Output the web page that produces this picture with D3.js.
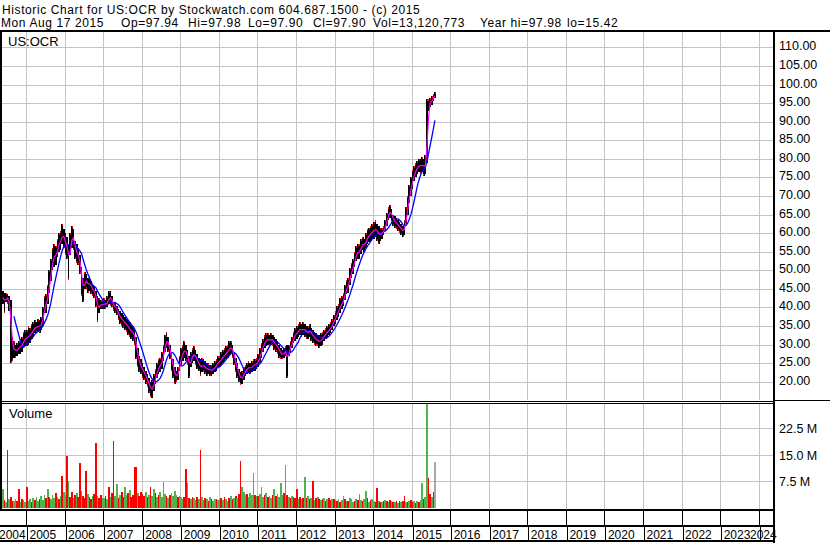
<html>
<meta charset="utf-8">
<style>
  body { margin: 0; background: #fff; }
  text { font-family: "Liberation Sans", Arial, sans-serif; fill: #000; }
  .header { font-size: 12px; letter-spacing: 0.6px; }
</style>
<body>
<script src="https://d3js.org/d3.v7.min.js"></script>
<script>

// half-month bars, the first one starts mid May 2004, the last one ends Aug 17 2015
var barStart = 2004.375;
var barsPerYear = 24;

var highs = [
  // 2004 (from mid May)
  44.5, 44, 44, 43.5, 43, 42, 32, 31, 30, 30.5, 31, 31.5, 32, 33.5, 34,
  // 2005
  34, 35, 34.5, 35.5, 36, 36.5, 36, 37, 36.5, 37.5, 40, 43, 43.5, 46, 50, 53, 56, 57, 56.5, 58.5, 60, 60.5, 62.5, 61,
  // 2006
  60, 59, 57, 60, 62, 61, 58, 57, 56, 54, 51, 48, 49.5, 49, 48, 48.5, 47, 46, 45.5, 44.5, 43, 42.5, 42, 42,
  // 2007
  42.5, 42, 43, 44.5, 44.5, 43, 41.5, 41.5, 40.5, 39.5, 39, 38.5, 38, 37.5, 37, 36.5, 36, 35.5, 35, 34, 32, 29, 27, 26,
  // 2008
  25, 24, 23, 22, 21, 20, 20.5, 22, 23.5, 25, 26, 26.5, 28, 30, 32.5, 33.5, 32, 30, 28, 26, 24, 23, 24, 27,
  // 2009
  29, 30, 31, 30, 28.5, 27, 28, 29, 29.5, 28.5, 27.5, 26.5, 26, 26.5, 26, 25.5, 25, 25, 24.5, 24.5, 25, 25.5, 26, 27,
  // 2010
  27, 28, 28.5, 29, 29.5, 30, 31, 31, 30, 28, 26.5, 25, 23.5, 22.5, 23, 24, 24.5, 25, 25.5, 25, 25.5, 26, 26, 26.5,
  // 2011
  27.5, 29, 30.5, 31.5, 32.5, 33, 33, 32.5, 33, 32.5, 32, 31.5, 31, 30, 29, 28.5, 29, 29.5, 30, 30, 31, 32, 33.5, 34.5,
  // 2012
  35, 35.5, 36, 35.5, 36, 35.5, 35, 35, 35.5, 34.5, 34, 33.5, 33, 32.5, 32.5, 33, 33.5, 34, 34.5, 35, 35.5, 36, 37, 38,
  // 2013
  39, 40.5, 41, 42.5, 43, 44, 46, 47.5, 48, 50.5, 52, 53, 55, 56.5, 57, 57, 58.5, 59, 58.5, 60, 61, 61.5, 62, 62.5,
  // 2014
  63, 63.5, 62.5, 62, 61.5, 61.5, 62, 63.5, 65.5, 67, 67.5, 66.5, 65, 64.5, 64, 63.5, 63, 62.5, 62, 63.5, 67, 70, 73, 75,
  // 2015 (to Aug 17)
  77, 78, 79, 79.5, 80, 80, 80.5, 80, 81, 96, 96, 96.5, 97, 97.5, 98
];

var lows = [
  // 2004
  41, 38.5, 41.5, 41, 39, 25, 25.5, 26.5, 26.5, 27, 27.5, 27.5, 28, 29, 29.5,
  // 2005
  29.5, 30, 30.5, 31.5, 32, 33, 33, 33.5, 33, 34, 35, 38.5, 38.5, 41, 44, 47, 50, 51, 51.5, 53.5, 55, 55.5, 57, 56,
  // 2006
  54, 53, 47.5, 54, 56, 55.5, 53, 52, 51.5, 49, 43, 41.5, 45, 45, 44, 44.5, 43.5, 43, 42.5, 40, 36, 38.5, 39.5, 39.5,
  // 2007
  39.5, 39.5, 40, 41, 40.5, 40, 39, 38.5, 38, 36.5, 35.5, 35, 34.5, 34, 33.5, 32.5, 32, 31.5, 31, 30, 26, 24, 22.5, 22,
  // 2008
  21, 20.5, 19.5, 18.5, 17, 16, 15.5, 17.5, 19.5, 21, 22, 22.5, 23.5, 25.5, 28, 29, 28, 26, 23, 21, 19.5, 20, 20.5, 23,
  // 2009
  24.5, 25.5, 26.5, 25.5, 24.5, 21, 24, 25, 25.5, 24.5, 23.5, 23, 21.5, 22.5, 22.5, 22, 21.5, 22, 21.5, 21.5, 22, 22.5, 23, 24,
  // 2010
  24, 24.5, 25, 25.5, 26, 26.5, 27, 27.5, 26.5, 24.5, 22.5, 21, 20, 19, 19.5, 20.5, 21.5, 22, 22.5, 22, 22.5, 23, 23, 23.5,
  // 2011
  24, 25, 26.5, 28, 29, 29.5, 30, 29.5, 30, 29.5, 28.5, 28, 27.5, 26.5, 26, 26, 26.5, 27, 21, 27, 28, 29, 30.5, 31,
  // 2012
  31.5, 32, 32.5, 32, 32.5, 32, 31.5, 31.5, 32, 31, 30.5, 30, 29.5, 29.5, 29, 29.5, 30, 31, 31.5, 32, 32.5, 33, 34, 35,
  // 2013
  35.5, 36.5, 37.5, 38.5, 39.5, 40.5, 42, 43.5, 44, 46, 48, 49, 51, 52.5, 53, 53, 54.5, 55.5, 55, 56, 57, 57.5, 58, 58.5,
  // 2014
  58.5, 59, 58, 57, 58, 58.5, 59.5, 60.5, 62, 63.5, 64, 63, 62, 61.5, 61, 60.5, 60, 59.5, 59, 59.5, 62.5, 65, 68, 70,
  // 2015
  72, 74, 75, 76, 76.5, 76, 76.5, 75.5, 76, 79, 93, 94, 94.5, 95.5, 96.5
];

// biggest volume of each half month, millions
var volumes = [
  // 2004
  5.3, 2.2, 1.8, 16.4, 2.5, 3.0, 2.1, 1.9, 2.4, 2.0, 5.5, 1.7, 2.6, 2.2, 1.8,
  // 2005
  6.0, 2.1, 2.6, 1.8, 2.9, 2.3, 3.1, 2.0, 2.5, 3.4, 2.2, 3.8, 2.7, 5.5, 3.2, 2.4, 3.6, 2.8, 4.1, 3.0, 2.6, 3.3, 9.0, 4.4,
  // 2006
  3.8, 14.7, 7.5, 3.2, 4.5, 2.9, 3.6, 4.2, 3.1, 12.8, 4.8, 3.5, 2.7, 10.4, 3.9, 3.0, 2.6, 3.4, 4.0, 18.4, 3.3, 2.8, 3.7, 2.9,
  // 2007
  2.8, 3.5, 2.6, 6.0, 3.1, 4.2, 18.9, 3.4, 6.8, 2.9, 3.8, 4.5, 3.2, 6.0, 3.6, 4.1, 5.2, 3.0, 3.7, 11.7, 11.5, 4.3, 3.5, 4.6,
  // 2008
  4.0, 3.4, 4.4, 3.1, 3.8, 6.0, 3.5, 5.5, 4.2, 3.0, 3.6, 4.5, 3.2, 7.4, 4.0, 3.3, 2.9, 3.7, 4.1, 3.4, 4.7, 3.8, 3.0, 3.5,
  // 2009
  3.1, 2.6, 3.2, 11.0, 7.0, 2.9, 2.4, 3.0, 2.7, 2.2, 3.0, 2.6, 16.4, 3.2, 2.3, 2.8, 2.5, 2.1, 3.0, 2.6, 2.0, 2.6, 2.4, 2.2,
  // 2010
  2.5, 2.9, 2.2, 3.1, 2.6, 2.0, 2.8, 3.3, 2.4, 2.7, 3.5, 2.9, 4.0, 13.3, 6.0, 4.4, 3.7, 3.9, 3.2, 4.2, 3.6, 10.0, 3.8, 3.4,
  // 2011
  3.5, 3.9, 6.0, 3.2, 3.6, 4.1, 3.0, 3.4, 2.8, 3.7, 5.5, 3.3, 4.0, 3.1, 7.0, 3.6, 4.3, 12.0, 3.8, 3.2, 2.9, 3.5, 3.0, 2.7,
  // 2012
  5.5, 2.6, 3.1, 2.4, 2.9, 8.8, 2.7, 3.3, 2.5, 2.8, 7.6, 2.3, 2.7, 3.0, 2.4, 2.2, 2.6, 2.9, 2.1, 2.5, 2.8, 2.3, 2.6, 2.4,
  // 2013
  2.3, 2.0, 2.6, 1.8, 2.2, 3.4, 2.5, 1.9, 2.1, 2.8, 2.4, 1.7, 2.0, 2.6, 2.2, 3.9, 2.3, 1.9, 2.5, 4.8, 2.7, 1.8, 2.2, 2.4,
  // 2014
  2.0, 1.7, 5.7, 2.1, 1.8, 1.6, 2.0, 2.3, 1.9, 1.7, 2.2, 2.0, 1.6, 1.8, 2.1, 1.5, 1.9, 1.7, 2.0, 3.5, 1.8, 1.6, 2.0, 2.3,
  // 2015
  1.6, 1.9, 1.4, 2.0, 1.7, 2.2, 7.1, 2.4, 3.0, 31, 8.5, 4.0, 3.2, 4.5, 13.1
];

// g = up, r = down, x = current day
var volumeColors = "grgrgrrggrrgrgg" +
  "rggrgrggrgggrgrgggrgrgrg" +
  "grgrrgrgrrgrrrgrrgrrgrrg" +
  "grgrgrrggrgrrggrgrrrrgrr" +
  "rrgrgrggrgrggggrgrggggrg" +
  "ggrrgrgrggrgrggrgrgrggrg" +
  "grgrggrgrgrgrrgggrggggrg" +
  "rgggrgrggrgrggggrgrgrgrr" +
  "rgrgrgrgrgrgrgrgrgrgrrgr" +
  "grgrggrgrgggrgrggrggrgrg" +
  "grrgrgrgrgrgrgrgrgrrgrgr" +
  "rgrgrggrggrrgrx";

var years = [2004, 2005, 2006, 2007, 2008, 2009, 2010, 2011, 2012, 2013, 2014,
             2015, 2016, 2017, 2018, 2019, 2020, 2021, 2022, 2023, 2024];
var priceTicks = [20, 25, 30, 35, 40, 45, 50, 55, 60, 65, 70, 75, 80, 85, 90, 95, 100, 105, 110];
var volumeTicks = [7.5, 15, 22.5];

var titleLine = "Historic Chart for US:OCR by Stockwatch.com 604.687.1500 - (c) 2015";
var quoteFields = [
  {text: "Mon Aug 17 2015", x: 1},
  {text: "Op=97.94", x: 121},
  {text: "Hi=97.98", x: 188},
  {text: "Lo=97.90", x: 248},
  {text: "Cl=97.90", x: 313},
  {text: "Vol=13,120,773", x: 373},
  {text: "Year hi=97.98", x: 480},
  {text: "lo=15.42", x: 567}
];

// layout
var width = 830, height = 543;
var plotLeft = 2, plotRight = 773;
var priceTop = 32, priceBottom = 400;
var volTop = 404, volBottom = 509;

var xScale = d3.scaleLinear().domain([2005, 2024]).range([26, 758.7]);
var yPrice = d3.scaleLinear().domain([20, 110]).range([381.7, 47.4]);
var yVol = d3.scaleLinear().domain([0, 22.5]).range([508, 428.3]);

// build bar records
var bars = highs.map(function(h, i) {
  var t = barStart + i / barsPerYear;
  return {t: t, hi: h, lo: lows[i], mid: (h + lows[i]) / 2, vol: volumes[i], c: volumeColors[i]};
});
var barW = xScale(barStart + 1 / barsPerYear) - xScale(barStart);

function movingAverage(n, partial) {
  return bars.map(function(d, i) {
    if (i < n - 1 && !partial) return null;
    var part = bars.slice(Math.max(0, i - n + 1), i + 1);
    return {t: d.t, v: d3.mean(part, function(b) { return b.mid; })};
  }).filter(function(d) { return d != null; });
}
var fastMA = movingAverage(2, true);
var slowMA = movingAverage(8, false);

var svg = d3.select("body").append("svg")
    .attr("width", width)
    .attr("height", height)
    .style("display", "block");

svg.append("rect").attr("width", width).attr("height", height).attr("fill", "#fff");

// clip paths
var defs = svg.append("defs");
defs.append("clipPath").attr("id", "priceClip").append("rect")
    .attr("x", plotLeft).attr("y", priceTop)
    .attr("width", plotRight - plotLeft).attr("height", priceBottom - priceTop);
defs.append("clipPath").attr("id", "volClip").append("rect")
    .attr("x", plotLeft).attr("y", volTop)
    .attr("width", plotRight - plotLeft).attr("height", volBottom - volTop);

// grid
var grid = svg.append("g").attr("stroke", "#c4c4c4").attr("stroke-width", 1);
years.slice(1).forEach(function(y) {
  var x = Math.round(xScale(y)) + 0.5;
  grid.append("line").attr("x1", x).attr("x2", x).attr("y1", priceTop).attr("y2", priceBottom);
  grid.append("line").attr("x1", x).attr("x2", x).attr("y1", volTop).attr("y2", volBottom);
});
priceTicks.forEach(function(v) {
  var y = Math.round(yPrice(v)) + 0.5;
  grid.append("line").attr("x1", plotLeft).attr("x2", plotRight).attr("y1", y).attr("y2", y);
});
volumeTicks.forEach(function(v) {
  var y = Math.round(yVol(v)) + 0.5;
  grid.append("line").attr("x1", plotLeft).attr("x2", plotRight).attr("y1", y).attr("y2", y);
});

// price bars
var pricePlot = svg.append("g").attr("clip-path", "url(#priceClip)");
pricePlot.selectAll(".bar")
  .data(bars)
  .enter()
  .append("rect")
  .attr("x", function(d) { return xScale(d.t); })
  .attr("width", barW + 0.1)
  .attr("y", function(d) { return yPrice(d.hi); })
  .attr("height", function(d) { return yPrice(d.lo) - yPrice(d.hi); })
  .attr("fill", "#000")
  .attr("shape-rendering", "crispEdges");

// red close ticks at the end the bar moved to
pricePlot.selectAll(".tick-mark")
  .data(bars.slice(1))
  .enter()
  .append("rect")
  .attr("x", function(d) { return xScale(d.t) + barW - 1; })
  .attr("width", 1)
  .attr("y", function(d, i) { return d.mid < bars[i].mid ? yPrice(d.lo) - 2 : yPrice(d.hi); })
  .attr("height", 2)
  .attr("fill", "#ff0000")
  .attr("shape-rendering", "crispEdges");

var maLine = d3.line()
  .x(function(d) { return xScale(d.t + 0.5 / barsPerYear); })
  .y(function(d) { return yPrice(d.v); });

pricePlot.append("path").datum(slowMA)
  .attr("d", maLine).attr("fill", "none").attr("stroke", "#0000ff").attr("stroke-width", 1.3);
pricePlot.append("path").datum(fastMA)
  .attr("d", maLine).attr("fill", "none").attr("stroke", "#ff00ff").attr("stroke-width", 1.2);

// volume bars
var volColor = {g: "#4fb34f", r: "#ff0000", x: "#a8a8a8"};
svg.append("g").attr("clip-path", "url(#volClip)")
  .selectAll("rect")
  .data(bars)
  .enter()
  .append("rect")
  .attr("x", function(d) { return xScale(d.t); })
  .attr("width", barW + 0.1)
  .attr("y", function(d) { return yVol(d.vol); })
  .attr("height", function(d) { return yVol(0) - yVol(d.vol); })
  .attr("fill", function(d) { return volColor[d.c]; })
  .attr("shape-rendering", "crispEdges");

// frame
var frame = svg.append("g").attr("fill", "#000").attr("shape-rendering", "crispEdges");
frame.append("rect").attr("x", 0).attr("y", 30).attr("width", width).attr("height", 2);
frame.append("rect").attr("x", 0).attr("y", 30).attr("width", 2).attr("height", 479);
frame.append("rect").attr("x", 773).attr("y", 30).attr("width", 2).attr("height", height - 30);
frame.append("rect").attr("x", 0).attr("y", 401).attr("width", 773).attr("height", 1);
frame.append("rect").attr("x", 0).attr("y", 403).attr("width", 773).attr("height", 1);
frame.append("rect").attr("x", 775).attr("y", 400).attr("width", width - 775).attr("height", 1);
frame.append("rect").attr("x", 0).attr("y", 509).attr("width", 773).attr("height", 2);
frame.append("rect").attr("x", 0).attr("y", 525).attr("width", 773).attr("height", 2);
frame.append("rect").attr("x", 0).attr("y", 540).attr("width", 773).attr("height", 2);
years.slice(1).forEach(function(y) {
  var x = Math.round(xScale(y));
  frame.append("rect").attr("x", x).attr("y", 511).attr("width", 1).attr("height", 14);
  frame.append("rect").attr("x", x + 1).attr("y", 527).attr("width", 1).attr("height", 13);
});

// year labels
svg.append("g").selectAll("text")
  .data(years)
  .enter()
  .append("text")
  .attr("x", function(y) { return Math.min(Math.max(xScale(y) + 3.5, -1), 750); })
  .attr("y", 539)
  .style("font-size", "12px")
  .text(function(y) { return y; });

// right axis labels
svg.append("g").selectAll("text")
  .data(priceTicks)
  .enter()
  .append("text")
  .attr("x", 779)
  .attr("y", function(v) { return Math.round(yPrice(v)) + 3; })
  .style("font-size", "12.5px")
  .text(function(v) { return v.toFixed(2); });

svg.append("g").selectAll("text")
  .data(volumeTicks)
  .enter()
  .append("text")
  .attr("x", 779)
  .attr("y", function(v) { return Math.round(yVol(v)) + 5; })
  .style("font-size", "12.5px")
  .text(function(v) { return v.toFixed(1) + " M"; });

// header
svg.append("text").attr("class", "header").attr("x", 2).attr("y", 13.5).text(titleLine);
svg.append("g").selectAll("text")
  .data(quoteFields)
  .enter()
  .append("text")
  .attr("class", "header")
  .attr("x", function(d) { return d.x; })
  .attr("y", 27)
  .text(function(d) { return d.text; });

svg.append("text").attr("x", 8).attr("y", 46).style("font-size", "13px").text("US:OCR");
svg.append("text").attr("x", 9).attr("y", 418).style("font-size", "13px").text("Volume");

</script>
</body>
</html>
